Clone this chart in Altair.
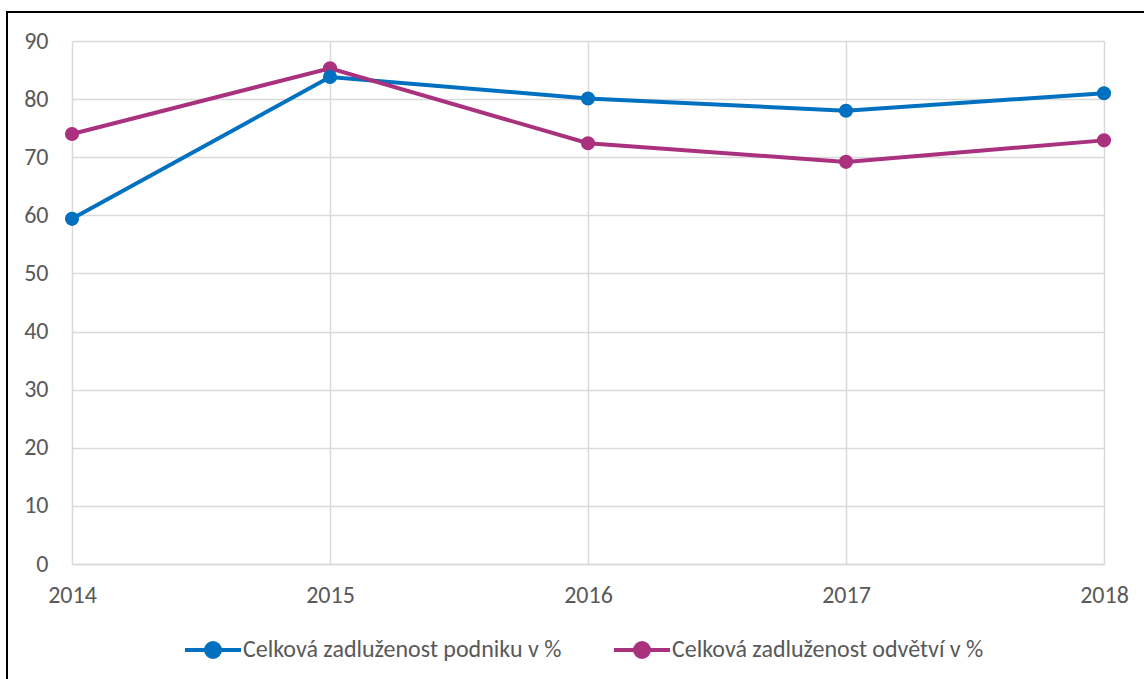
import altair as alt
import pandas as pd

# Year-by-year debt ratios (%)
years = ["2014", "2015", "2016", "2017", "2018"]
podnik = [59.4, 83.8, 80.1, 78.0, 81.0]
odvetvi = [74.0, 85.3, 72.4, 69.2, 72.9]
series_names = ["Celková zadluženost podniku v %", "Celková zadluženost odvětví v %"]
series_colors = ["#0070C0", "#A9317D"]
y_ticks = list(range(0, 91, 10))

rows = []
for name, vals in zip(series_names, [podnik, odvetvi]):
    for yr, v in zip(years, vals):
        rows.append({"rok": yr, "hodnota": v, "rada": name})
df = pd.DataFrame(rows)

FONT = "Carlito, Open Sans, sans-serif"
TEXT = "#595959"
GRID = "#d9d9d9"
FS = 24

# legend symbol: a short line with a dot in the middle
SYMBOL = ("M-1,0L1,0M-0.25,0A0.25,0.25,0,1,1,0.25,0"
          "A0.25,0.25,0,1,1,-0.25,0Z")

color = alt.Color(
    "rada:N",
    scale=alt.Scale(domain=series_names, range=series_colors),
    legend=alt.Legend(
        title=None,
        orient="none",
        direction="horizontal",
        legendX=111,
        legendY=579,
        symbolType=SYMBOL,
        symbolSize=3136,
        symbolStrokeWidth=4,
        labelFont=FONT,
        labelFontSize=FS,
        labelColor=TEXT,
        labelOffset=0,
        columnPadding=44,
        labelLimit=600,
    ),
)

base = alt.Chart(df).encode(
    x=alt.X(
        "rok:O",
        title=None,
        scale=alt.Scale(padding=0),
        axis=alt.Axis(
            labelAngle=0,
            labelFont=FONT,
            labelFontSize=FS,
            labelColor=TEXT,
            labelPadding=19,
            ticks=False,
            domain=True,
            domainColor=GRID,
            domainWidth=1.5,
            grid=True,
            gridColor=GRID,
            gridWidth=1.5,
        ),
    ),
    y=alt.Y(
        "hodnota:Q",
        title=None,
        scale=alt.Scale(domain=[0, 90], nice=False),
        axis=alt.Axis(
            values=y_ticks,
            labelFont=FONT,
            labelFontSize=FS,
            labelColor=TEXT,
            labelPadding=24,
            ticks=False,
            domain=False,
            grid=True,
            gridColor=GRID,
            gridWidth=1.5,
        ),
    ),
    color=color,
    order=alt.Order("rada:N"),
)

lines = base.mark_line(strokeWidth=4)
points = base.mark_circle(size=200, opacity=1)

# outer frame: top and left edges
frame_data = alt.Data(values=[{"k": 1}])
frame_top = alt.Chart(frame_data).mark_rule(color="black", strokeWidth=2).encode(
    x=alt.value(-65), x2=alt.value(1100), y=alt.value(-29)
)
frame_left = alt.Chart(frame_data).mark_rule(color="black", strokeWidth=2).encode(
    x=alt.value(-65), y=alt.value(-30), y2=alt.value(700)
)

chart = (
    alt.layer(lines, points, frame_top, frame_left)
    .properties(
        width=1032,
        height=523,
        autosize=alt.AutoSizeParams(type="none"),
        padding={"left": 72, "top": 41, "right": 40, "bottom": 115},
        background="white",
    )
    .configure_view(strokeWidth=0)
)

chart.save("out.html", embed_options={"renderer": "svg", "actions": False})
